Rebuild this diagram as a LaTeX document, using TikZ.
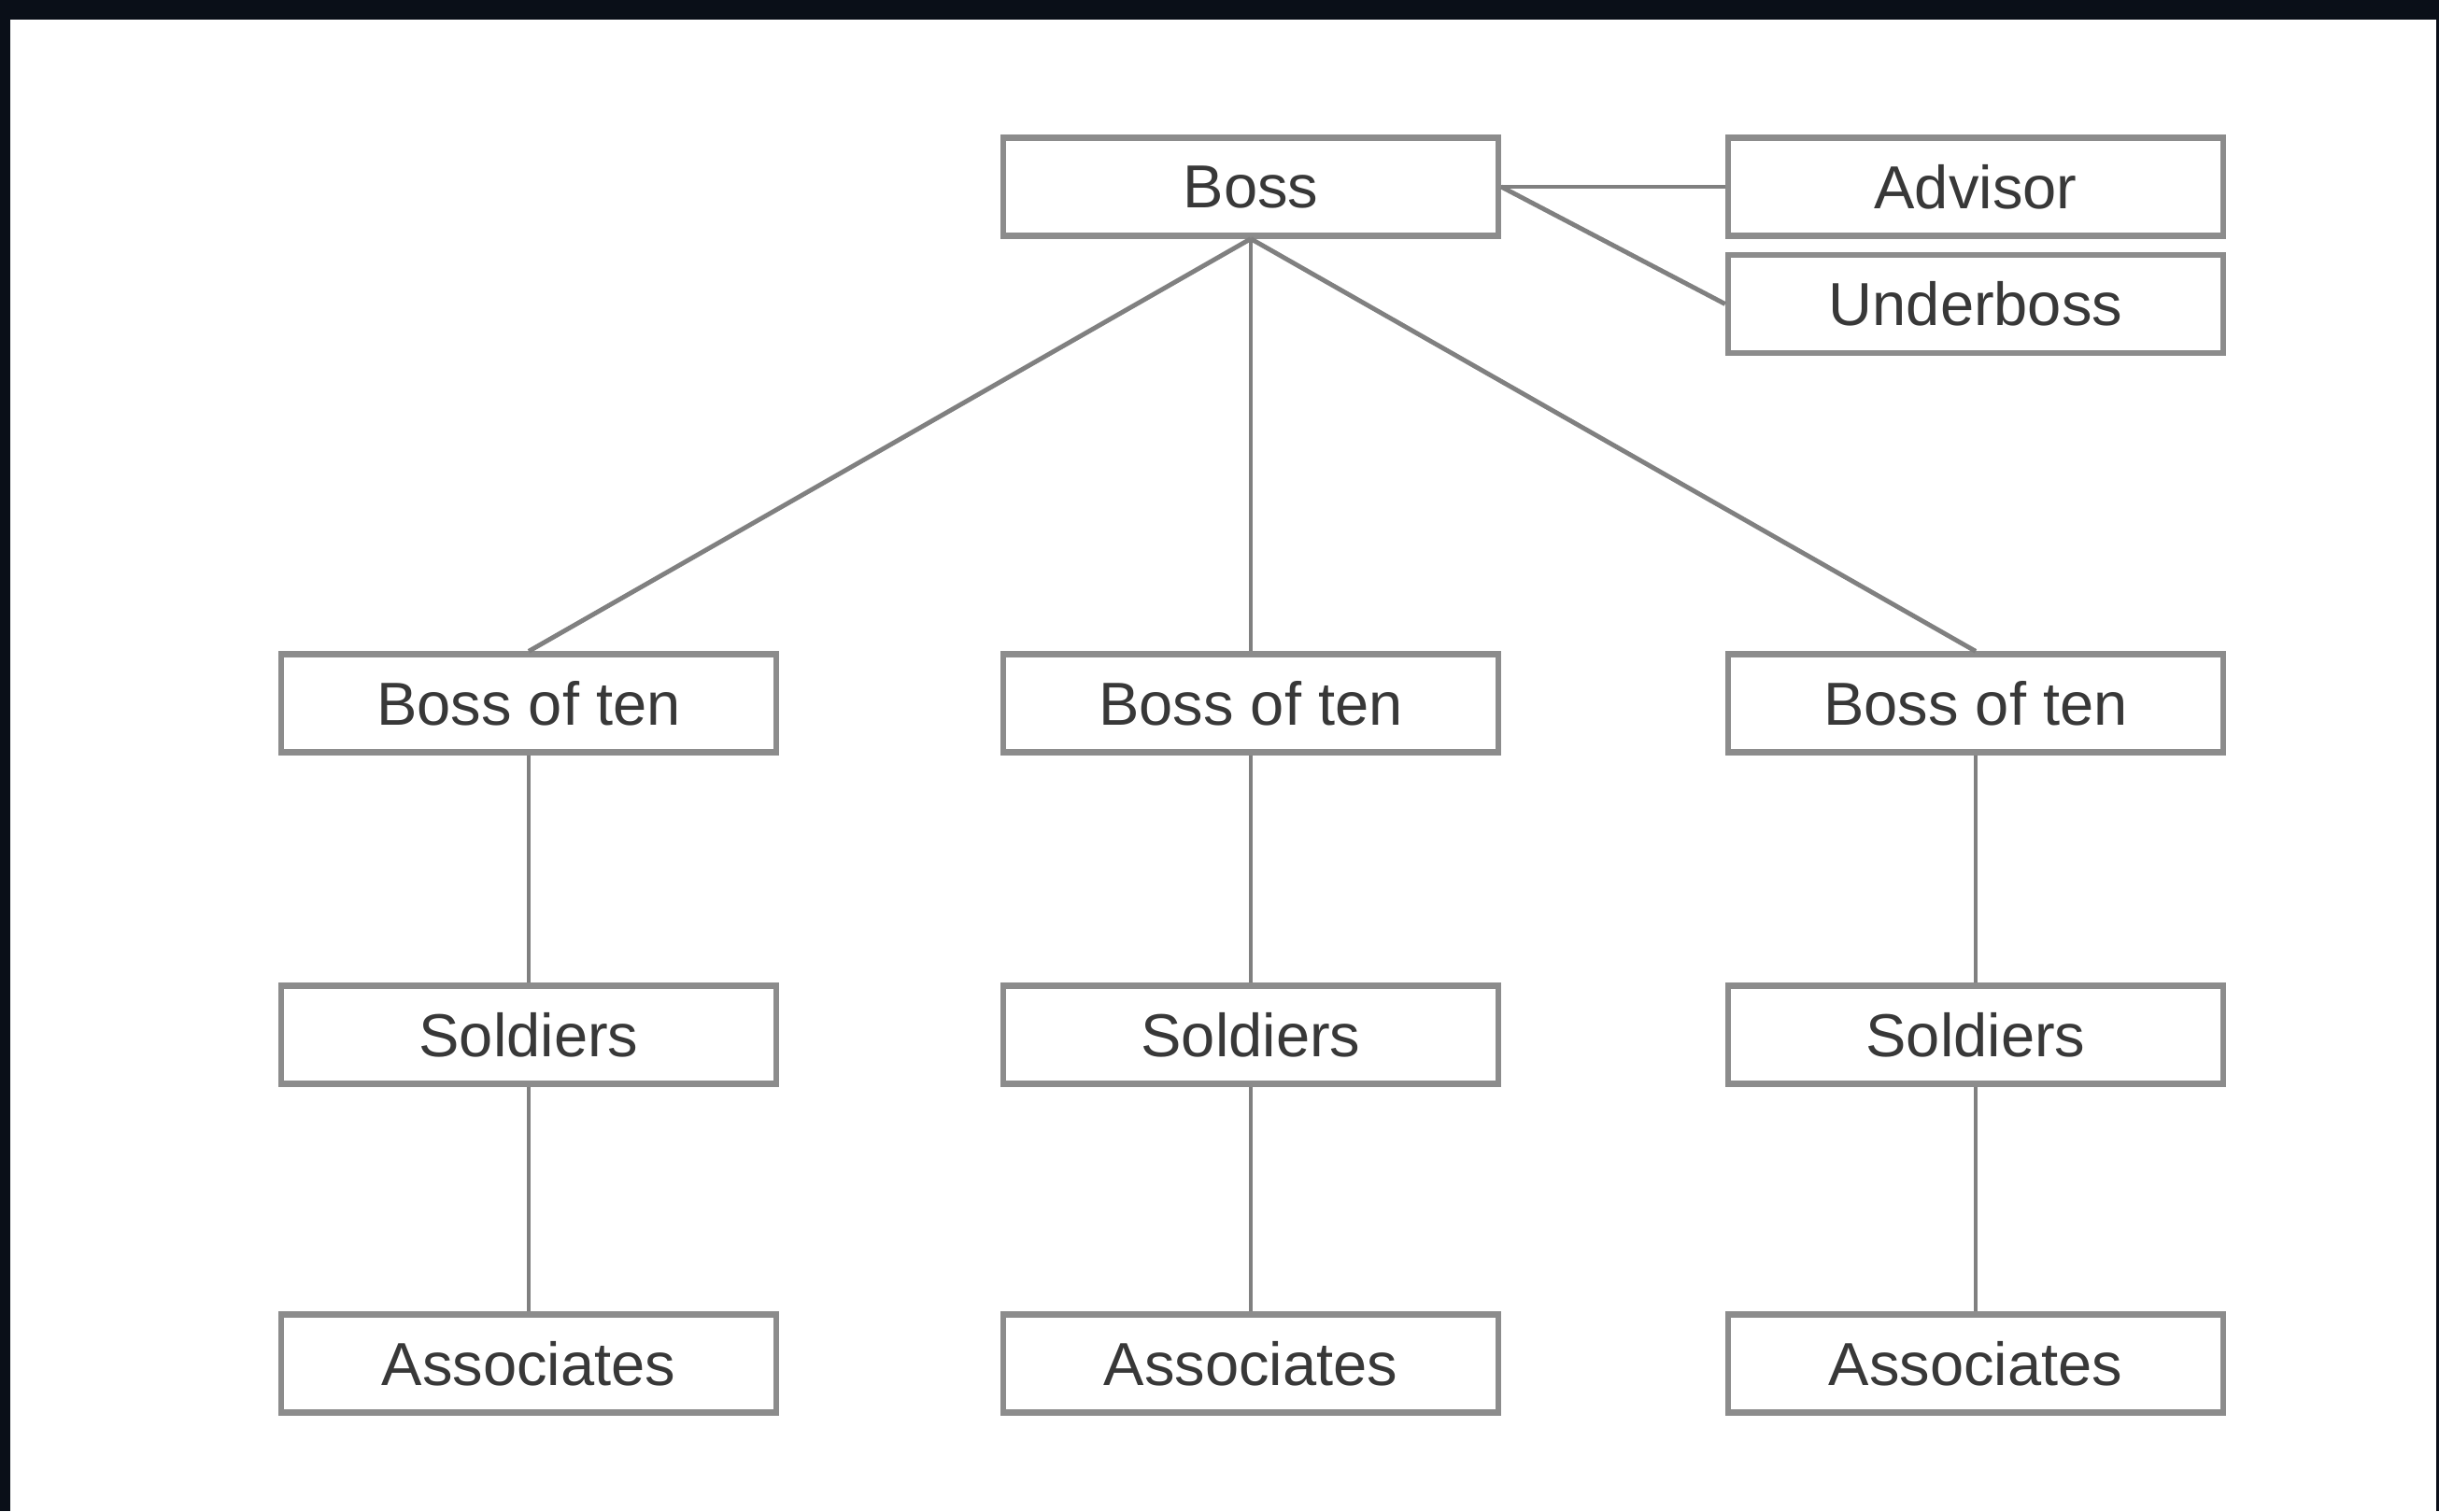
\documentclass[tikz,border=0pt]{standalone}
\usepackage{fontspec}
\setmainfont{Liberation Sans}
\usepackage{tikz}
\usetikzlibrary{positioning}
\definecolor{frame}{HTML}{0A0F18}
\definecolor{boxline}{HTML}{8C8C8C}
\definecolor{wire}{HTML}{808080}
\definecolor{label}{HTML}{383838}

\begin{document}
\begin{tikzpicture}[x=1cm, y=1cm,
    rank/.style={draw=boxline, line width=1.8pt, fill=white, rectangle, minimum width=5.3cm, minimum height=1.05cm, inner sep=0pt, align=center, text=label, font=\fontsize{18.5}{20}\selectfont},
    link/.style={draw=wire, line width=1.4pt}]
    % Backdrop
    \fill[frame] (0,0) rectangle (26.11,-16.18);
    \fill[white] (0.11,-0.21) rectangle (26.08,-16.18);
    \useasboundingbox (0,0) rectangle (26.11,-16.18);
    % Top rank
    \node[rank] (boss) at (13.39, -2.00) {Boss};
    \node[rank] (advisor) at (21.15, -2.00) {Advisor};
    \node[rank] (underboss) at (21.15, -3.255) {Underboss};
    % Bosses of ten
    \node[rank] (botleft) at (5.66, -7.53) {Boss of ten};
    \node[rank] (botmid) at (13.39, -7.53) {Boss of ten};
    \node[rank] (botright) at (21.15, -7.53) {Boss of ten};
    % Soldiers
    \node[rank] (solleft) at (5.66, -11.08) {Soldiers};
    \node[rank] (solmid) at (13.39, -11.08) {Soldiers};
    \node[rank] (solright) at (21.15, -11.08) {Soldiers};
    % Associates
    \node[rank] (assleft) at (5.66, -14.60) {Associates};
    \node[rank] (assmid) at (13.39, -14.60) {Associates};
    \node[rank] (assright) at (21.15, -14.60) {Associates};
    % Links
    \draw[link] (boss.east) -- (advisor.west);
    \draw[link] (boss.east) -- (underboss.west);
    \draw[link] (boss.south) -- (botleft.north);
    \draw[link] (boss.south) -- (botmid.north);
    \draw[link] (boss.south) -- (botright.north);
    \draw[link] (botleft) -- (solleft);
    \draw[link] (botmid) -- (solmid);
    \draw[link] (botright) -- (solright);
    \draw[link] (solleft) -- (assleft);
    \draw[link] (solmid) -- (assmid);
    \draw[link] (solright) -- (assright);
\end{tikzpicture}
\end{document}
